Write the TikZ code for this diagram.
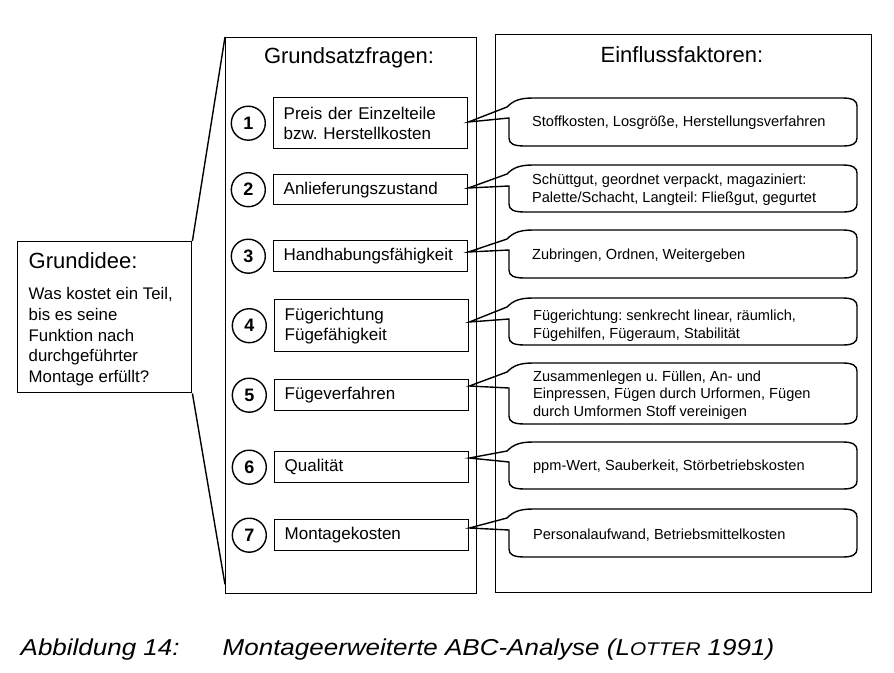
\documentclass[tikz,border=0pt]{standalone}
\usepackage{fontspec}
\setmainfont{Liberation Sans}
\usepackage{graphicx}
\usetikzlibrary{positioning}
\frenchspacing

% Sprechblase: Frage-Knoten, Abstand der Spitze, oben, unten, Ansatz links
\newcommand{\blase}[5]{%
\draw ([yshift=-#2pt]#1.north east) -- (507,#3+9) .. controls (513,#3+3) and (519,#3) .. (533,#3)
  -- (843,#3) .. controls (853,#3) and (857,#3+3) .. (857,#3+8)
  -- (857,#4-8) .. controls (857,#4-3) and (853,#4) .. (843,#4)
  -- (525,#4) .. controls (514,#4) and (509,#4-2) .. (509,#4-8)
  -- (509,#5) -- cycle;}

\begin{document}
\begin{tikzpicture}[x=1pt,y=-1pt,line width=1.4pt,
  titel/.style={anchor=base,font=\fontsize{22}{26}\selectfont},
  frage/.style={draw,anchor=north west,minimum width=194,text width=174,inner xsep=10,align=left,font=\fontsize{17}{20}\selectfont},
  nummer/.style={draw,circle,minimum size=34,inner sep=0,font=\fontsize{18}{20}\selectfont\bfseries},
  faktor/.style={anchor=west,align=left,inner sep=0,font=\fontsize{14.6}{17.5}\selectfont}]
\useasboundingbox (0,0) rectangle (894,672);

\node[draw,anchor=north west,minimum width=251,minimum height=556] (fragen) at (225,37) {};
\node[draw,anchor=north west,minimum width=376,minimum height=558] (faktoren) at (495,34) {};
\node[titel] (t1) at (349,63) {Grundsatzfragen:};
\node[titel] (t2) at (682,62) {Einflussfaktoren:};

% Grundidee
\node[draw,anchor=north west,minimum width=174,minimum height=151] (idee) at (17,241) {};
\node[anchor=base west,inner sep=0,font=\fontsize{22}{26}\selectfont] (ideetitel) at (28,268) {Grundidee:};
\node[anchor=north west,inner sep=0,align=left,font=\fontsize{16.8}{20.6}\selectfont] (ideetext) at (28,287)
  {Was kostet ein Teil,\\bis es seine\\Funktion nach\\durchgeführter\\Montage erfüllt?};
\draw (idee.north east) -- (fragen.north west);
\draw (idee.south east) -- ([yshift=10pt]fragen.south west);

% Grundsatzfragen
\node[frage,minimum height=51] (f1) at (273,97) {Preis der Einzelteile\\bzw. Herstellkosten};
\node[frage,minimum height=30] (f2) at (273,174) {Anlieferungszustand};
\node[frage,minimum height=31] (f3) at (273,240) {Handhabungsfähigkeit};
\node[frage,minimum height=52] (f4) at (274,299) {Fügerichtung\\Fügefähigkeit};
\node[frage,minimum height=31] (f5) at (274,379) {Fügeverfahren};
\node[frage,minimum height=31] (f6) at (274,451) {Qualität};
\node[frage,minimum height=31] (f7) at (274,519) {Montagekosten};

\node[nummer,left=7pt of f1] (n1) {1};
\node[nummer,left=7pt of f2] (n2) {2};
\node[nummer,left=7pt of f3] (n3) {3};
\node[nummer,left=7pt of f4] (n4) {4};
\node[nummer,left=7pt of f5] (n5) {5};
\node[nummer,left=7pt of f6] (n6) {6};
\node[nummer,left=7pt of f7] (n7) {7};

% Einflussfaktoren
\node[faktor,right=63pt of f1] (b1) {Stoffkosten, Losgröße, Herstellungsverfahren};
\node[faktor,right=63pt of f2] (b2) {Schüttgut, geordnet verpackt, magaziniert:\\Palette/Schacht, Langteil: Fließgut, gegurtet};
\node[faktor,right=63pt of f3] (b3) {Zubringen, Ordnen, Weitergeben};
\node[faktor,right=63pt of f4] (b4) {Fügerichtung: senkrecht linear, räumlich,\\Fügehilfen, Fügeraum, Stabilität};
\node[faktor,right=63pt of f5] (b5) {Zusammenlegen u. Füllen, An- und\\Einpressen, Fügen durch Urformen, Fügen\\durch Umformen Stoff vereinigen};
\node[faktor,right=63pt of f6] (b6) {ppm-Wert, Sauberkeit, Störbetriebskosten};
\node[faktor,right=63pt of f7] (b7) {Personalaufwand, Betriebsmittelkosten};

\blase{f1}{25}{98}{146}{118}
\blase{f2}{14}{165}{212}{186}
\blase{f3}{12}{230}{278}{250}
\blase{f4}{23}{298}{345}{319}
\blase{f5}{7}{363}{424}{388}
\blase{f6}{7}{442}{489}{462}
\blase{f7}{9}{509}{557}{530}

% Bildunterschrift
\node[anchor=base west,inner sep=0,font=\fontsize{23}{26}\selectfont\itshape] (abb) at (20,655)
  {\scalebox{1.13}[1]{Abbildung 14:}};
\node[anchor=base west,inner sep=0,font=\fontsize{23}{26}\selectfont\itshape] (abbtext) at (222,655)
  {\scalebox{1.13}[1]{Montageerweiterte ABC-Analyse (L{\fontsize{18.4}{20}\selectfont OTTER} 1991)}};
\end{tikzpicture}
\end{document}
